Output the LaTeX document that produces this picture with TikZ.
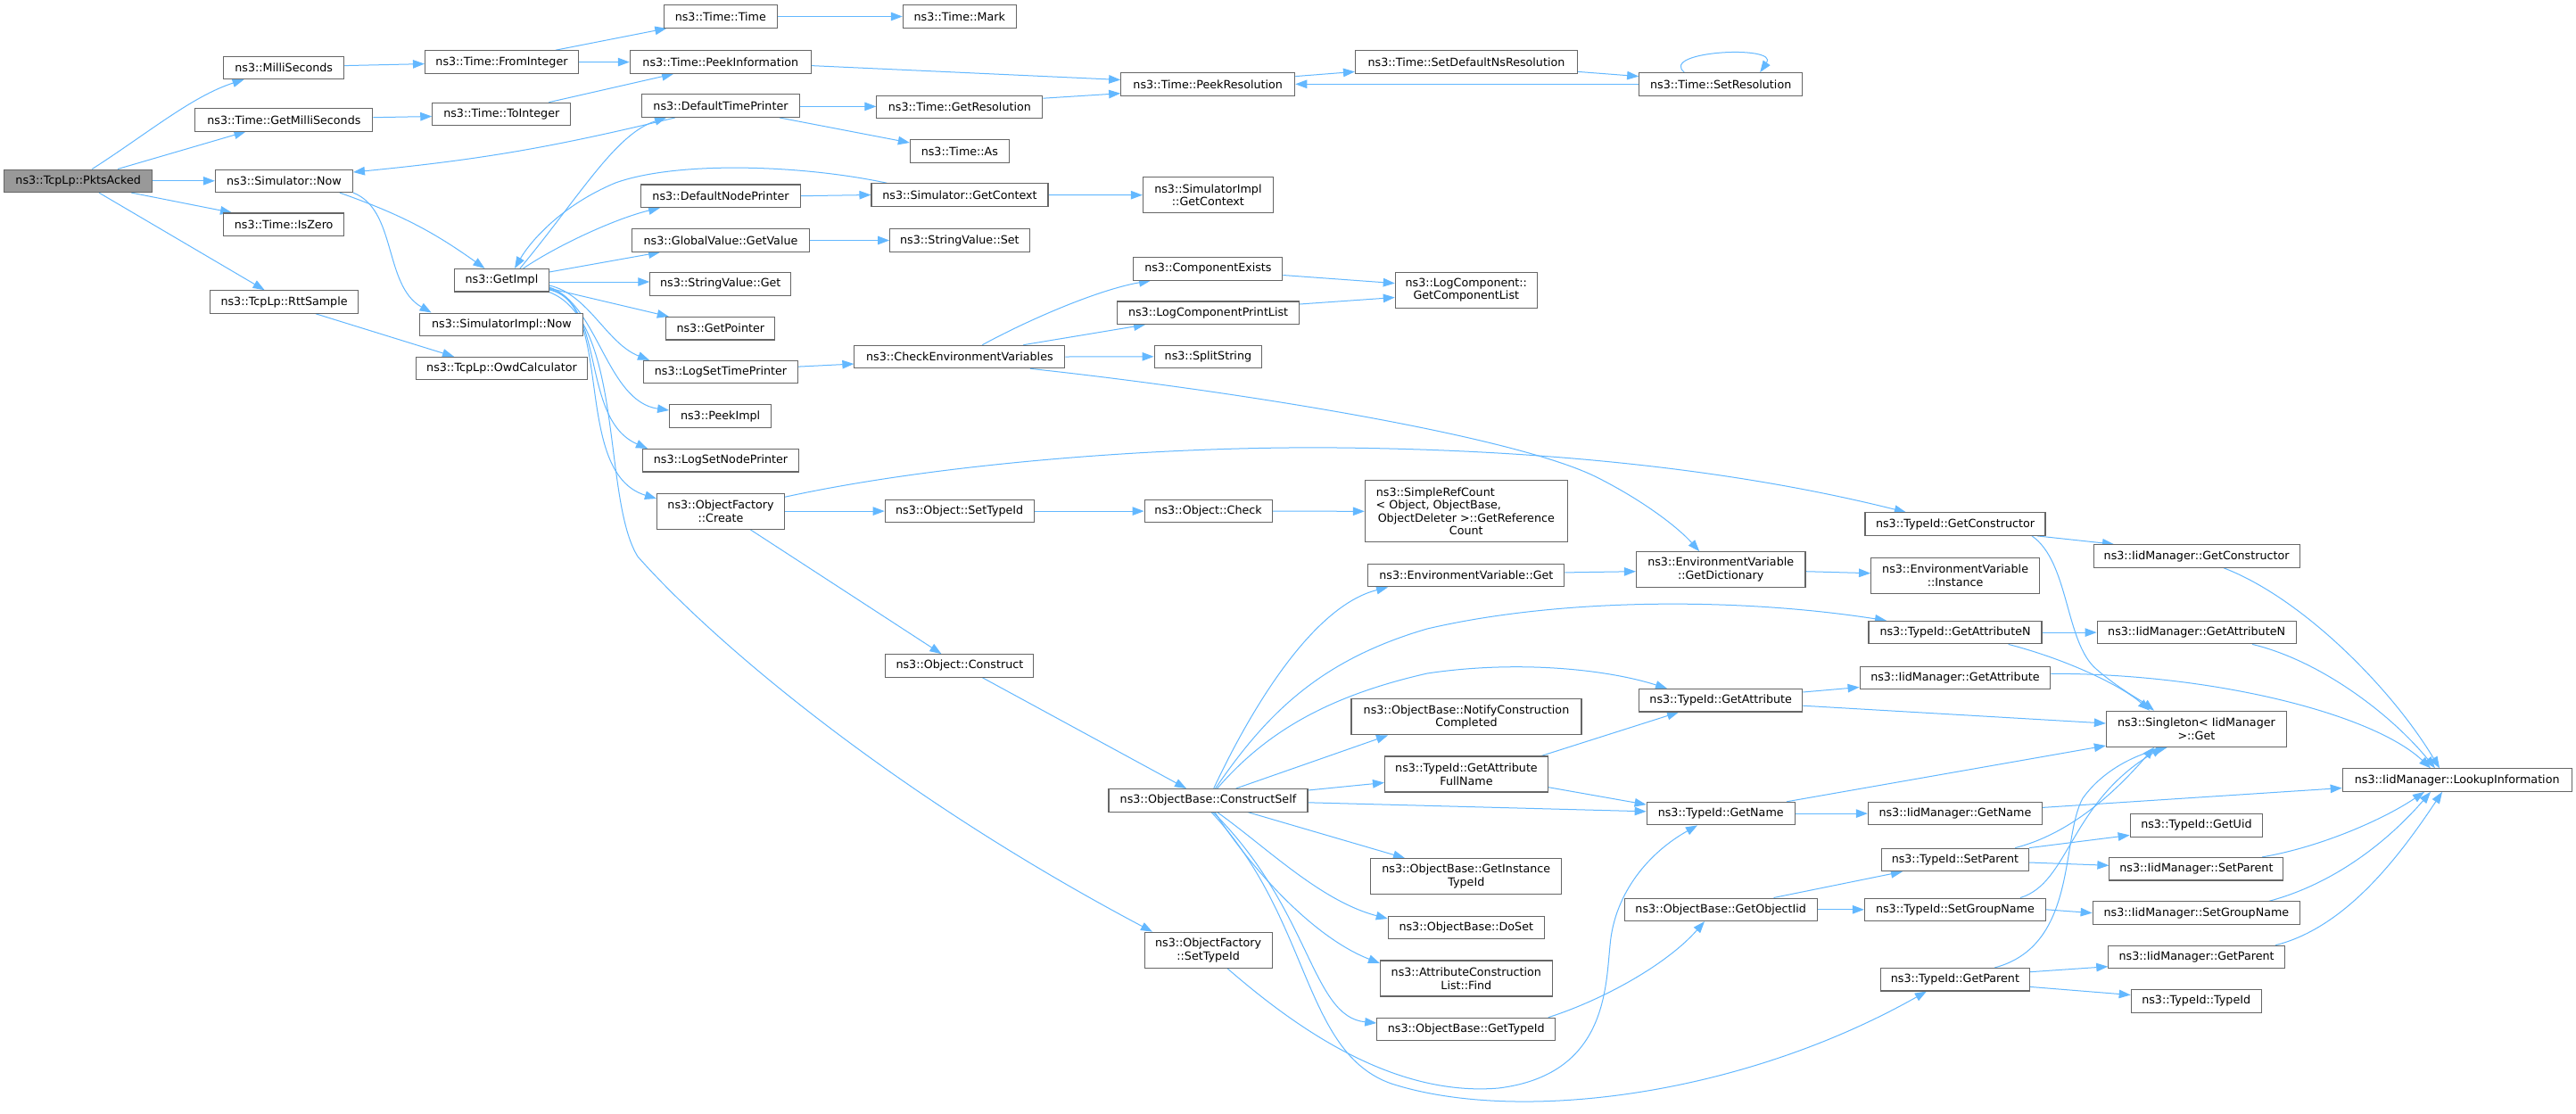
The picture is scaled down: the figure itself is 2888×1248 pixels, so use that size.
\documentclass[tikz,border=0pt]{standalone}
\usepackage{fontspec}
\setmainfont{DejaVu Sans}
\usetikzlibrary{arrows.meta,backgrounds}
\definecolor{edgec}{HTML}{63B8FF}
\definecolor{bordc}{HTML}{666666}
\definecolor{rootc}{HTML}{999999}
\tikzset{
 nd/.style={draw=bordc, line width=1.1pt, fill=white, inner sep=0pt, align=center,
   font=\fontsize{12.7pt}{14.6pt}\selectfont, minimum height=25.5pt},
 ndd/.style={nd, minimum height=40pt},
 ed/.style={draw=edgec, line width=1pt, -{Triangle[length=13pt,width=9.5pt]}},
}
\begin{document}
\begin{tikzpicture}[x=1pt,y=-1pt]
\useasboundingbox (0,0) rectangle (2888,1248);
% column 0-2
\node[nd, fill=rootc, minimum width=166pt] (pk) at (87.7,202.8) {ns3::TcpLp::PktsAcked};
\node[nd, minimum width=135pt] (ms) at (318.2,75.8) {ns3::MilliSeconds};
\node[nd, minimum width=199pt] (gms) at (318.4,134.3) {ns3::Time::GetMilliSeconds};
\node[nd, minimum width=154pt] (now) at (318.4,202.8) {ns3::Simulator::Now};
\node[nd, minimum width=135pt] (iz) at (318.2,251.7) {ns3::Time::IsZero};
\node[nd, minimum width=166pt] (rtt) at (318.6,338.5) {ns3::TcpLp::RttSample};
\node[nd, minimum width=172pt] (fi) at (562.5,69.5) {ns3::Time::FromInteger};
\node[nd, minimum width=155pt] (ti) at (562.3,128) {ns3::Time::ToInteger};
\node[nd, minimum width=105.5pt] (gi) at (562.5,314.2) {ns3::GetImpl};
\node[nd, minimum width=183pt] (sin) at (562.4,363.8) {ns3::SimulatorImpl::Now};
\node[nd, minimum width=192pt] (owd) at (562.5,413.1) {ns3::TcpLp::OwdCalculator};
% column 3
\node[nd, minimum width=127pt] (tt) at (807.8,18.5) {ns3::Time::Time};
\node[nd, minimum width=203pt] (pi) at (807.8,69.6) {ns3::Time::PeekInformation};
\node[nd, minimum width=177pt] (dtp) at (808,118.6) {ns3::DefaultTimePrinter};
\node[nd, minimum width=179pt] (dnp) at (808,219.7) {ns3::DefaultNodePrinter};
\node[nd, minimum width=199pt] (gv) at (808,269.5) {ns3::GlobalValue::GetValue};
\node[nd, minimum width=158pt] (svg) at (807.8,318.4) {ns3::StringValue::Get};
\node[nd, minimum width=122pt] (gp) at (807.8,368.2) {ns3::GetPointer};
\node[nd, minimum width=173pt] (lstp) at (808,417.1) {ns3::LogSetTimePrinter};
\node[nd, minimum width=114pt] (pimp) at (807.6,466.5) {ns3::PeekImpl};
\node[nd, minimum width=175pt] (lsnp) at (808,516.2) {ns3::LogSetNodePrinter};
\node[ndd, minimum width=143pt] (ofc) at (808,573.1) {ns3::ObjectFactory\\::Create};
% column 4
\node[nd, minimum width=127pt] (mark) at (1075.8,18.5) {ns3::Time::Mark};
\node[nd, minimum width=186pt] (gr) at (1075.9,119.8) {ns3::Time::GetResolution};
\node[nd, minimum width=111pt] (as) at (1075.9,169.5) {ns3::Time::As};
\node[nd, minimum width=198pt] (sgc) at (1076,218.5) {ns3::Simulator::GetContext};
\node[nd, minimum width=156.5pt] (svs) at (1075.9,269.5) {ns3::StringValue::Set};
\node[nd, minimum width=236pt] (cev) at (1075.9,400) {ns3::CheckEnvironmentVariables};
\node[nd, minimum width=167pt] (ost) at (1075.7,573.1) {ns3::Object::SetTypeId};
\node[nd, minimum width=166pt] (oc) at (1075.9,746.4) {ns3::Object::Construct};
% column 5
\node[nd, minimum width=195pt] (pr) at (1354.2,94.3) {ns3::Time::PeekResolution};
\node[ndd, minimum width=146pt] (sigc) at (1354.4,218.7) {ns3::SimulatorImpl\\::GetContext};
\node[nd, minimum width=167pt] (ce) at (1354.4,301.3) {ns3::ComponentExists};
\node[nd, minimum width=204pt] (lcpl) at (1354.6,350.7) {ns3::LogComponentPrintList};
\node[nd, minimum width=120.6pt] (ss) at (1354.4,399.8) {ns3::SplitString};
\node[nd, minimum width=143pt] (och) at (1354.6,573.1) {ns3::Object::Check};
\node[nd, minimum width=223pt] (cs) at (1354.5,897.3) {ns3::ObjectBase::ConstructSelf};
\node[ndd, minimum width=143pt] (ofst) at (1354.6,1065.2) {ns3::ObjectFactory\\::SetTypeId};
% column 6
\node[nd, minimum width=249pt] (sdns) at (1644,69.5) {ns3::Time::SetDefaultNsResolution};
\node[ndd, minimum width=159pt] (gcl) at (1643.8,325.2) {ns3::LogComponent::\\GetComponentList};
\node[nd, minimum width=227pt, minimum height=69pt] (src) at (1643.8,573.3) {ns3::SimpleRefCount\hspace{69pt}\mbox{}\\{}< Object, ObjectBase,\hspace{62pt}\mbox{}\\ObjectDeleter >::GetReference\\Count};
\node[nd, minimum width=220pt] (evg) at (1643.9,645.1) {ns3::EnvironmentVariable::Get};
\node[ndd, minimum width=258pt] (ncc) at (1644,803.9) {ns3::ObjectBase::NotifyConstruction\\Completed};
\node[ndd, minimum width=183pt] (gafn) at (1644,868) {ns3::TypeId::GetAttribute\\FullName};
\node[ndd, minimum width=214pt] (gitid) at (1643.8,982.6) {ns3::ObjectBase::GetInstance\\TypeId};
\node[nd, minimum width=175pt] (doset) at (1643.8,1040.1) {ns3::ObjectBase::DoSet};
\node[ndd, minimum width=192.5pt] (acl) at (1643.8,1097) {ns3::AttributeConstruction\\List::Find};
\node[nd, minimum width=200pt] (obgt) at (1643.8,1154) {ns3::ObjectBase::GetTypeId};
% column 7
\node[nd, minimum width=183pt] (sr) at (1929.2,94.3) {ns3::Time::SetResolution};
\node[ndd, minimum width=189.5pt] (evgd) at (1929.2,638.7) {ns3::EnvironmentVariable\\::GetDictionary};
\node[nd, minimum width=183pt] (tga) at (1929.2,785.2) {ns3::TypeId::GetAttribute};
\node[nd, minimum width=166pt] (tgn) at (1929.2,912.1) {ns3::TypeId::GetName};
\node[nd, minimum width=216pt] (oiid) at (1929.2,1019.8) {ns3::ObjectBase::GetObjectIid};
% column 8
\node[nd, minimum width=202pt] (tgc) at (2192,587.6) {ns3::TypeId::GetConstructor};
\node[ndd, minimum width=189pt] (evi) at (2192.1,645.1) {ns3::EnvironmentVariable\\::Instance};
\node[nd, minimum width=194pt] (tgan) at (2192,709.1) {ns3::TypeId::GetAttributeN};
\node[nd, minimum width=213.6pt] (iga) at (2191.9,760.1) {ns3::IidManager::GetAttribute};
\node[nd, minimum width=195pt] (ign) at (2191.9,912.1) {ns3::IidManager::GetName};
\node[nd, minimum width=165pt] (tsp) at (2191.9,963.9) {ns3::TypeId::SetParent};
\node[nd, minimum width=203pt] (tsg) at (2191.9,1019.8) {ns3::TypeId::SetGroupName};
\node[nd, minimum width=167pt] (tgp) at (2191.9,1098.2) {ns3::TypeId::GetParent};
% column 9
\node[nd, minimum width=231pt] (igc) at (2462.6,623.5) {ns3::IidManager::GetConstructor};
\node[nd, minimum width=223pt] (igan) at (2462.6,709.1) {ns3::IidManager::GetAttributeN};
\node[ndd, minimum width=202pt] (sgl) at (2462.4,817.2) {ns3::Singleton< IidManager\\ >::Get};
\node[nd, minimum width=148.5pt] (gu) at (2462.4,925.3) {ns3::TypeId::GetUid};
\node[nd, minimum width=195pt] (isp) at (2462.4,974.2) {ns3::IidManager::SetParent};
\node[nd, minimum width=232.5pt] (isg) at (2462.4,1023.6) {ns3::IidManager::SetGroupName};
\node[nd, minimum width=197.6pt] (igp) at (2462.6,1073) {ns3::IidManager::GetParent};
\node[nd, minimum width=146pt] (tid) at (2462.2,1122.3) {ns3::TypeId::TypeId};
% column 10
\node[nd, minimum width=257pt] (lk) at (2754.7,874.6) {ns3::IidManager::LookupInformation};

\begin{pgfonlayer}{background}
\fill[white] (0,0) rectangle (2888,1248);
% from PktsAcked
\draw[ed] ([xshift=15.6pt]pk.north) .. controls (165,150) and (215,108) .. ([xshift=-44.6pt]ms.south);
\draw[ed] ([xshift=44.3pt]pk.north) -- ([xshift=-42.9pt]gms.south);
\draw[ed] (pk.east) -- (now.west);
\draw[ed] ([xshift=59.6pt]pk.south) -- ([xshift=-58.2pt]iz.north);
\draw[ed] ([xshift=23.3pt]pk.south) -- ([xshift=-22pt]rtt.north);
% column 1
\draw[ed] ([yshift=2.2pt]ms.east) -- ([yshift=-2.1pt]fi.west);
\draw[ed] ([yshift=2.6pt]gms.east) -- ([yshift=-2.5pt]ti.west);
\draw[ed] ([xshift=62.4pt]now.south) to[bend left=8] ([xshift=-19.1pt]gi.north);
\draw[ed] (now.south east) .. controls (445,235) and (430,320) .. ([xshift=13.3pt]sin.north west);
\draw[ed] ([xshift=35.4pt]rtt.south) -- ([xshift=-53.5pt]owd.north);
% column 2
\draw[ed] ([xshift=60.5pt]fi.north) -- ([xshift=-60.5pt]tt.south);
\draw[ed] (fi.east) -- (pi.west);
\draw[ed] ([xshift=53pt]ti.north) -- ([xshift=-52.8pt]pi.south);
\draw[ed] ([xshift=20.5pt]gi.north) .. controls (650,220) and (690,150) .. ([xshift=-61pt]dtp.south);
\draw[ed] ([xshift=-81.8pt]sgc.north) .. controls (900,185) and (760,180) .. (690,205) .. controls (630,230) and (595,270) .. ([xshift=14.5pt]gi.north);
\draw[ed] ([xshift=24.2pt]gi.north) .. controls (625,275) and (690,245) .. ([xshift=-68pt]dnp.south);
\draw[ed] ([yshift=9.2pt]gi.east) -- ([xshift=-68pt]gv.south);
\draw[ed] ([yshift=-1.8pt]gi.east) -- ([yshift=2.4pt]svg.west);
\draw[ed] ([yshift=-9.1pt]gi.east) -- ([xshift=-58pt]gp.north);
\draw[ed] ([yshift=-5.8pt]gi.east) .. controls (660,330) and (680,385) .. ([xshift=-80pt]lstp.north);
\draw[ed] ([yshift=-7.8pt]gi.east) .. controls (670,340) and (680,450) .. ([yshift=6.5pt]pimp.west);
\draw[ed] ([yshift=-9.8pt]gi.east) .. controls (680,340) and (650,470) .. ([xshift=-82pt]lsnp.north);
\draw[ed] ([yshift=-10.8pt]gi.east) .. controls (690,340) and (640,530) .. ([yshift=14.1pt]ofc.west);
\draw[ed] (gi.south east) .. controls (700,360) and (675,560) .. (715,624) .. controls (800,720) and (1000,890) .. ([xshift=-62.6pt]ofst.north);
% column 3
\draw[ed] (tt.east) -- (mark.west);
\draw[ed] ([yshift=-4pt]pi.east) -- ([yshift=4.8pt]pr.west);
\draw[ed] ([yshift=-0.8pt]dtp.east) -- ([yshift=0.4pt]gr.west);
\draw[ed] ([xshift=65.6pt]dtp.south) -- ([yshift=9.5pt]as.west);
\draw[ed] ([xshift=-51pt]dtp.south) to[bend left=4] ([yshift=9.8pt]now.east);
\draw[ed] (dnp.east) -- (sgc.west);
\draw[ed] (gv.east) -- (svs.west);
\draw[ed] ([yshift=6pt]lstp.east) -- ([yshift=-8pt]cev.west);
\draw[ed] (ofc.east) -- (ost.west);
\draw[ed] ([yshift=15.9pt]ofc.east) .. controls (1050,520) and (1300,500) .. (1500,502) .. controls (1800,505) and (2000,540) .. ([xshift=-55.2pt]tgc.north);
\draw[ed] ([xshift=33pt]ofc.south) -- ([xshift=-20.5pt]oc.north);
% column 4
\draw[ed] ([yshift=9.6pt]gr.east) -- ([yshift=-10.4pt]pr.west);
\draw[ed] (sgc.east) -- (sigc.west);
\draw[ed] ([xshift=25.4pt]cev.north) .. controls (1150,360) and (1230,325) .. ([xshift=-64.4pt]ce.south);
\draw[ed] ([xshift=71.4pt]cev.north) -- ([xshift=-70.6pt]lcpl.south);
\draw[ed] (cev.east) -- (ss.west);
\draw[ed] ([xshift=79pt]cev.south) .. controls (1400,440) and (1700,490) .. (1790,535) .. controls (1840,560) and (1880,590) .. ([xshift=-24pt]evgd.north);
\draw[ed] (ost.east) -- (och.west);
\draw[ed] ([xshift=25.4pt]oc.south) -- ([xshift=-24.5pt]cs.north);
% column 5
\draw[ed] ([yshift=8.7pt]pr.east) -- ([yshift=-10.9pt]sdns.west);
\draw[ed] ([yshift=-7.2pt]ce.east) -- ([yshift=7.6pt]gcl.west);
\draw[ed] ([yshift=9.7pt]lcpl.east) -- ([yshift=-8.3pt]gcl.west);
\draw[ed] (och.east) -- (src.west);
\draw[ed] ([xshift=6.2pt]cs.north) .. controls (1400,800) and (1470,680) .. ([xshift=-87.9pt]evg.south);
\draw[ed] ([xshift=8.1pt]cs.north) .. controls (1420,800) and (1480,740) .. (1600,705) .. controls (1750,670) and (1950,670) .. ([xshift=-77pt]tgan.north);
\draw[ed] ([xshift=10.1pt]cs.north) .. controls (1420,820) and (1490,780) .. (1600,755) .. controls (1700,740) and (1800,750) .. ([xshift=-60.2pt]tga.north);
\draw[ed] ([xshift=31.1pt]cs.north) -- ([xshift=-88pt]ncc.south);
\draw[ed] ([yshift=11.3pt]cs.east) -- ([yshift=-9.5pt]gafn.west);
\draw[ed] ([yshift=-2.5pt]cs.east) -- ([yshift=2.3pt]tgn.west);
\draw[ed] ([xshift=44.5pt]cs.south) -- ([xshift=-68.8pt]gitid.north);
\draw[ed] ([xshift=10.1pt]cs.south) .. controls (1420,950) and (1480,1010) .. ([yshift=10.1pt]doset.west);
\draw[ed] ([xshift=7.5pt]cs.south) .. controls (1400,970) and (1470,1050) .. ([yshift=17pt]acl.west);
\draw[ed] ([xshift=5.5pt]cs.south) .. controls (1470,1020) and (1470,1140) .. ([yshift=7pt]obgt.west);
\draw[ed] ([xshift=3.5pt]cs.south) .. controls (1470,1030) and (1460,1180) .. (1560,1215) .. controls (1700,1260) and (1950,1230) .. ([xshift=-32pt]tgp.south);
\draw[ed] ([xshift=21.4pt]ofst.south) .. controls (1450,1150) and (1560,1230) .. (1680,1220) .. controls (1800,1205) and (1800,1110) .. (1805,1060) .. controls (1810,1000) and (1850,955) .. ([xshift=-26.2pt]tgn.south);
% column 6
\draw[ed] ([yshift=-10.9pt]sdns.east) -- ([yshift=8.7pt]sr.west);
\draw[ed] ([yshift=3.2pt]evg.east) -- ([yshift=-2pt]evgd.west);
\draw[ed] ([xshift=84pt]gafn.north) -- ([xshift=-47.2pt]tga.south);
\draw[ed] ([yshift=-14.7pt]gafn.east) -- ([yshift=10pt]tgn.west);
\draw[ed] ([xshift=92pt]obgt.north) .. controls (1800,1120) and (1870,1080) .. ([xshift=-18.2pt]oiid.south);
% column 7
\draw[ed] (sr.west) -- (pr.east);
\draw[ed] ([xshift=-41pt]sr.north) .. controls (1860,57) and (1995,50) .. ([xshift=44pt]sr.north);
\draw[ed] ([yshift=-2pt]evgd.east) -- ([yshift=2.4pt]evi.west);
\draw[ed] ([yshift=9.2pt]tga.east) -- ([yshift=-10.4pt]iga.west);
\draw[ed] ([yshift=-6pt]tga.east) -- ([yshift=6.2pt]sgl.west);
\draw[ed] ([xshift=73.8pt]tgn.north) -- ([yshift=-18.8pt]sgl.west);
\draw[ed] (tgn.east) -- (ign.west);
\draw[ed] ([xshift=59.3pt]oiid.north) -- ([xshift=-59pt]tsp.south);
\draw[ed] (oiid.east) -- (tsg.west);
% column 8
\draw[ed] ([xshift=92pt]tgc.south) -- ([xshift=-92.6pt]igc.north);
\draw[ed] ([xshift=86pt]tgc.south) .. controls (2320,630) and (2315,720) .. (2350,750) .. controls (2375,772) and (2400,785) .. ([xshift=-47.4pt]sgl.north);
\draw[ed] (tgan.east) -- (igan.west);
\draw[ed] ([xshift=59.6pt]tgan.south) .. controls (2320,740) and (2380,770) .. ([xshift=-52.4pt]sgl.north);
\draw[ed] ([yshift=4.8pt]iga.east) .. controls (2480,755) and (2660,800) .. ([xshift=-29.7pt]lk.north);
\draw[ed] ([yshift=6.7pt]ign.east) -- ([yshift=-8.9pt]lk.west);
\draw[ed] ([xshift=67.3pt]tsp.north) .. controls (2320,935) and (2370,890) .. ([xshift=-47.4pt]sgl.south);
\draw[ed] ([xshift=73.1pt]tsg.north) .. controls (2320,990) and (2320,900) .. ([xshift=-37.4pt]sgl.south);
\draw[ed] ([xshift=44.4pt]tgp.north) .. controls (2330,1060) and (2310,940) .. (2335,895) .. controls (2360,860) and (2400,845) .. ([xshift=-32.4pt]sgl.south);
\draw[ed] (tsp.north east) -- ([yshift=-11.1pt]gu.west);
\draw[ed] ([yshift=-3.1pt]tsp.east) -- ([yshift=3.9pt]isp.west);
\draw[ed] (tsg.east) -- (isg.west);
\draw[ed] ([yshift=8.5pt]tgp.east) -- ([yshift=-10.7pt]igp.west);
\draw[ed] ([yshift=-8.2pt]tgp.east) -- ([yshift=6.8pt]tid.west);
% column 9
\draw[ed] ([xshift=30.4pt]igc.south) .. controls (2580,670) and (2680,770) .. ([xshift=-19.7pt]lk.north);
\draw[ed] ([xshift=62.4pt]igan.south) .. controls (2600,740) and (2680,800) .. ([xshift=-24.7pt]lk.north);
\draw[ed] ([xshift=73.6pt]isp.north) .. controls (2600,950) and (2670,920) .. ([xshift=-36.7pt]lk.south);
\draw[ed] ([xshift=81.4pt]isg.north) .. controls (2620,990) and (2680,940) .. ([xshift=-29.7pt]lk.south);
\draw[ed] ([xshift=88.4pt]igp.north) .. controls (2630,1040) and (2690,960) .. ([xshift=-16.7pt]lk.south);
\end{pgfonlayer}
\end{tikzpicture}
\end{document}
